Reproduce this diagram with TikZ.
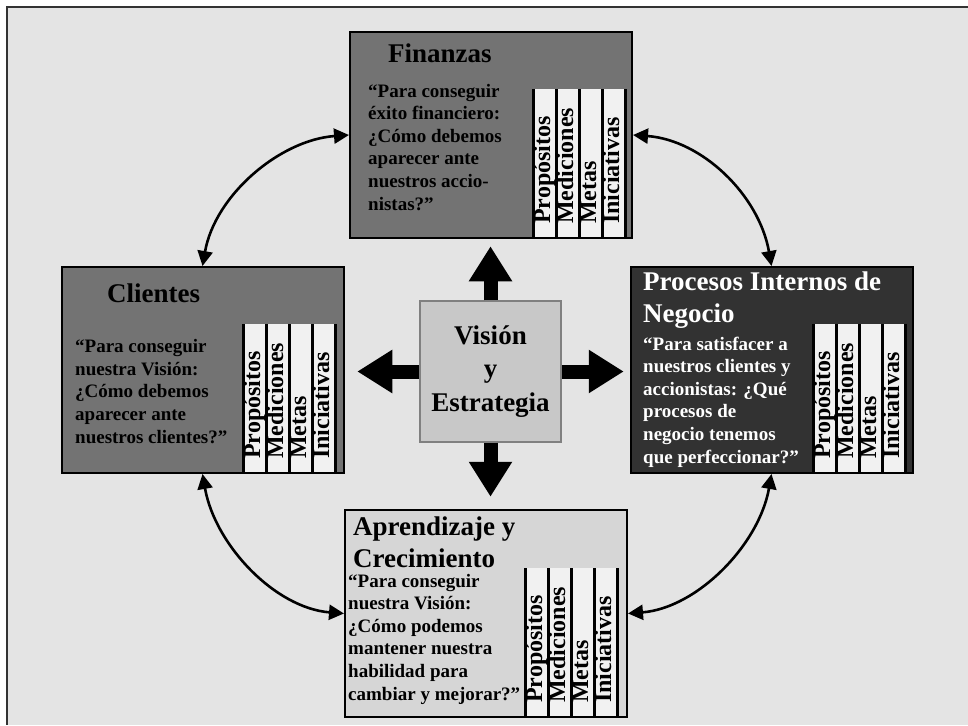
\documentclass[tikz,border=0pt]{standalone}
\usepackage{fontspec}
\setmainfont{Liberation Serif}
\usetikzlibrary{arrows.meta}

\definecolor{bgcol}{RGB}{228,228,228}
\definecolor{fincol}{RGB}{115,115,115}
\definecolor{procol}{RGB}{50,50,50}
\definecolor{aprcol}{RGB}{214,214,214}
\definecolor{viscol}{RGB}{200,200,200}
\definecolor{colcol}{RGB}{241,241,241}

\tikzset{
  persp/.style={draw=black, line width=2pt, inner sep=0pt, minimum width=282pt, minimum height=206pt},
  ttl/.style={font=\fontsize{27}{32}\selectfont\bfseries, align=left, anchor=base west, inner sep=0pt},
  txt/.style={font=\fontsize{19}{22.6}\selectfont\bfseries, align=left, anchor=base west, inner sep=0pt},
  collbl/.style={font=\fontsize{24}{24}\selectfont\bfseries, rotate=90, anchor=base west, inner sep=0pt},
  bigarrow/.style={line width=14pt, -{Triangle[width=41pt,length=35pt]}},
  bendarrow/.style={line width=2.6pt, {Triangle[width=15pt,length=15pt]}-{Triangle[width=15pt,length=15pt]}},
}

\begin{document}
\begin{tikzpicture}[x=1pt,y=-1pt]
  \useasboundingbox (0,0) rectangle (968,725);
  \fill[bgcol] (7,7) rectangle (968,725);
  \draw[line width=2pt, black!80] (968,7) -- (7,7) -- (7,725);

  % the four perspectives
  \node[persp, fill=fincol] (fin) at (491,135) {};
  \node[persp, fill=fincol] (cli) at (202.5,370) {};
  \node[persp, fill=procol] (pro) at (771.5,370) {};
  \node[persp, fill=aprcol, minimum height=207pt] (apr) at (486,613.5) {};

  \foreach \bx/\x/\yt/\yb in {fin/533/89/238, cli/243/324/473, pro/813/324/473, apr/525/568/717} {
    \fill[colcol] (\x,\yt) rectangle ({\x+92},{\yb-1});
    \foreach \i in {0,...,4}
      \draw[line width=3pt] ({\x+23*\i},\yt) -- ({\x+23*\i},\yb);
    \foreach \lbl [count=\i] in {Propósitos,Mediciones,Metas,Iniciativas}
      \node[collbl] (\bx-c\i) at ({\x+23*\i-6},{\yb-14}) {\lbl};
  }

  % titles and questions (anchored at the last baseline)
  \node[ttl] (finT) at (388,63) {Finanzas};
  \node[ttl] (cliT) at (107,302) {Clientes};
  \node[ttl, text=white] (proT) at (643,322) {Procesos Internos de\\Negocio};
  \node[ttl] (aprT) at (353,567) {Aprendizaje y\\Crecimiento};

  \node[txt] (finQ) at (368,210) {“Para conseguir\\éxito financiero:\\¿Cómo debemos\\aparecer ante\\nuestros accio-\\nistas?”};
  \node[txt] (cliQ) at (75,443) {“Para conseguir\\nuestra Visión:\\¿Cómo debemos\\aparecer ante\\nuestros clientes?”};
  \node[txt, text=white] (proQ) at (643,463) {“Para satisfacer a\\nuestros clientes y\\accionistas: ¿Qué\\procesos de\\negocio tenemos\\que perfeccionar?”};
  \node[txt] (aprQ) at (348,700) {“Para conseguir\\nuestra Visión:\\¿Cómo podemos\\mantener nuestra\\habilidad para\\cambiar y mejorar?”};

  % centre
  \node[draw=black!50, line width=1.5pt, fill=viscol, minimum size=141pt, inner sep=0pt, align=center,
        font=\fontsize{27}{33.5}\selectfont\bfseries] (vis) at (490.5,371.5) {Visión\\y\\Estrategia};

  \draw[bigarrow] (vis.north) -- ++(0,-54);
  \draw[bigarrow] (vis.south) -- ++(0,54);
  \draw[bigarrow] (vis.west) -- ++(-62,0);
  \draw[bigarrow] (vis.east) -- ++(62,0);

  \draw[bendarrow] (cli.north) .. controls (215,195) and (280,140) .. (fin.west);
  \draw[bendarrow] (fin.east) .. controls (702,140) and (759,195) .. (pro.north);
  \draw[bendarrow] (cli.south) .. controls (215,545) and (275,608) .. (apr.west);
  \draw[bendarrow] (pro.south) .. controls (759,545) and (697,608) .. (apr.east);
\end{tikzpicture}
\end{document}
